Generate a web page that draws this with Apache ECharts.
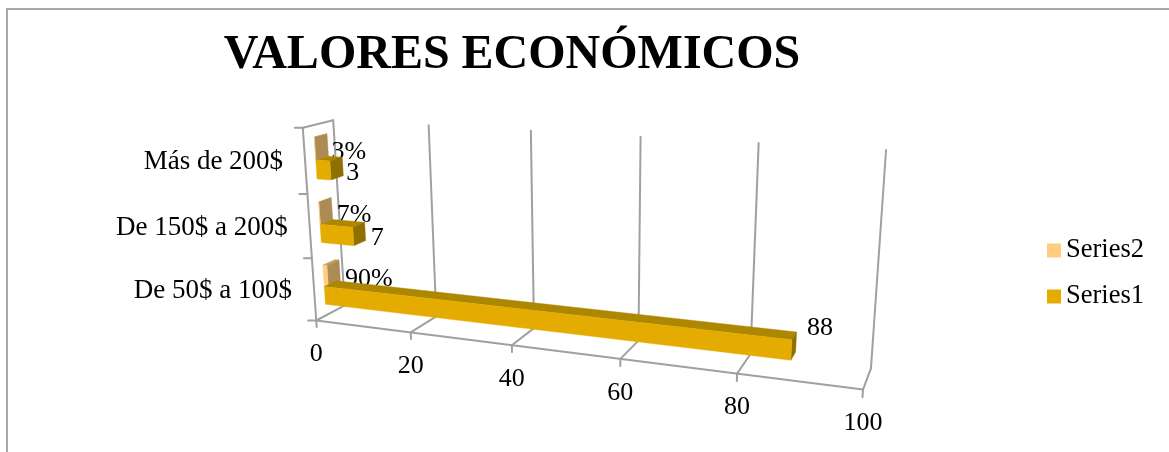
<!DOCTYPE html>
<html>
<head>
<meta charset="utf-8">
<style>html,body{margin:0;padding:0;background:#fff}#chart{width:1169px;height:452px}</style>
<script src="https://cdn.jsdelivr.net/npm/echarts@6/dist/echarts.min.js"></script>
</head>
<body>
<div id="chart"></div>
<script>
// Chart content
const chartTitle = 'VALORES ECONÓMICOS';
const categories = ['De 50$ a 100$', 'De 150$ a 200$', 'Más de 200$'];
const series1Values = [88, 7, 3];
const series2Values = [0.9, 0.07, 0.03];
const valueTicks = [0, 20, 40, 60, 80, 100];

// Camera: reference points of the plot box, as [value share, depth, height] -> screen
const boxCorners = [
  [[0, 0, 0], [317, 320]], [[1, 0, 0], [863, 390]],
  [[0, 1, 0], [344, 306]], [[1, 1, 0], [871, 368]],
  [[0, 0, 1], [302, 128]], [[0, 1, 1], [334, 120]],
  [[1, 1, 1], [886, 150]]
];

// Solves the 3x4 projective camera by least squares over the corners above
function solveCamera(pairs) {
  const rows = [], rhs = [];
  pairs.forEach(([[x, d, h], [sx, sy]]) => {
    const u = sx / 1000, v = sy / 1000;
    rows.push([x, d, h, 1, 0, 0, 0, 0, -u * x, -u * d, -u * h]); rhs.push(u);
    rows.push([0, 0, 0, 0, x, d, h, 1, -v * x, -v * d, -v * h]); rhs.push(v);
  });
  const n = 11;
  const A = Array.from({length: n}, (_, i) => {
    const line = [];
    for (let j = 0; j < n; j++) line.push(rows.reduce((s, r) => s + r[i] * r[j], 0) + (i === j ? 1e-10 : 0));
    line.push(rows.reduce((s, r, k) => s + r[i] * rhs[k], 0));
    return line;
  });
  for (let c = 0; c < n; c++) {
    let p = c;
    for (let r = c + 1; r < n; r++) if (Math.abs(A[r][c]) > Math.abs(A[p][c])) p = r;
    [A[c], A[p]] = [A[p], A[c]];
    for (let r = 0; r < n; r++) {
      if (r === c) continue;
      const f = A[r][c] / A[c][c];
      for (let k = c; k <= n; k++) A[r][k] -= f * A[c][k];
    }
  }
  return A.map((line, i) => line[n] / line[i]);
}
const cam = solveCamera(boxCorners);
function project(x, d, h) {
  const w = cam[8] * x + cam[9] * d + cam[10] * h + 1;
  return [
    1000 * (cam[0] * x + cam[1] * d + cam[2] * h + cam[3]) / w,
    1000 * (cam[4] * x + cam[5] * d + cam[6] * h + cam[7]) / w
  ];
}

// Cartesian position from the hidden axes, lifted onto the box
function lift(api, params, value, catIndex, bandShift, depth) {
  const cs = params.coordSys;
  const p = api.coord([value, catIndex]);
  const band = api.size([0, 1])[1];
  const x = (p[0] - cs.x) / cs.width;
  const h = (cs.y + cs.height - (p[1] + band / 2 - band * bandShift)) / cs.height;
  return project(x, depth, h);
}

const barDepth = [0.34, 0.76];
const serif = '"Liberation Serif", "Times New Roman", serif';
const labelFont = '26px ' + serif;
const categoryFont = '27px ' + serif;
const lineGray = '#a0a0a0';
const seriesStyle = {
  Series1: {front: '#e4ac00', top: '#ad8700', side: '#8f6f00', band: [0.18, 0.47], fmt: v => String(v),
            nudge: [[24, -14], [12, 7], [10, 7]]},
  Series2: {front: '#ffcc80', top: '#c9a15e', side: '#ad8b55', band: [0.47, 0.82], fmt: v => Math.round(v * 100) + '%',
            nudge: [[29, 9], [22, 7], [21, 7]]}
};

function barRenderer(name) {
  const st = seriesStyle[name];
  return function (params, api) {
    const value = api.value(0), cat = api.value(1);
    const [b0, b1] = st.band, [d0, d1] = barDepth;
    const P = (v, s, d) => lift(api, params, v, cat, s, d);
    const poly = (pts, fill) => ({type: 'polygon', shape: {points: pts}, style: {fill: fill, stroke: fill, lineWidth: 0.4}});
    const backRight = P(value, (b0 + b1) / 2, d1);
    const nudge = st.nudge[cat];
    return {
      type: 'group',
      children: [
        poly([P(0, b1, d0), P(value, b1, d0), P(value, b1, d1), P(0, b1, d1)], st.top),
        poly([P(value, b0, d0), P(value, b0, d1), P(value, b1, d1), P(value, b1, d0)], st.side),
        poly([P(0, b0, d0), P(value, b0, d0), P(value, b1, d0), P(0, b1, d0)], st.front),
        {type: 'text', z2: 100, style: {
          x: backRight[0] + nudge[0], y: backRight[1] + nudge[1], text: st.fmt(value),
          font: labelFont, fill: '#000', align: 'center', verticalAlign: 'middle'}}
      ]
    };
  };
}

// Walls, floor lines, ticks and tick labels of the projected axes
function frameRenderer(params, api) {
  const share = api.value(0) / 100;
  const line = (a, b) => ({type: 'line', shape: {x1: a[0], y1: a[1], x2: b[0], y2: b[1]},
    style: {stroke: lineGray, lineWidth: 2, lineCap: 'round'}});
  const front = project(share, 0, 0), back = project(share, 1, 0), top = project(share, 1, 1);
  const children = [
    line(front, back), line(back, top),
    line(front, project(share, 0, -0.035)),
    {type: 'text', style: {x: front[0], y: front[1] + 34, text: String(api.value(0)),
      font: labelFont, fill: '#000', align: 'center', verticalAlign: 'middle'}}
  ];
  if (params.dataIndex === 0) {
    children.push(line(project(0, 0, 0), project(1, 0, 0)));
    children.push(line(project(0, 0, 0), project(0, 0, 1)));
    children.push(line(project(0, 0, 1), project(0, 1, 1)));
    for (let i = 0; i <= categories.length; i++) {
      const a = project(0, 0, i / categories.length);
      children.push(line(a, [a[0] - 8, a[1]]));
    }
  }
  return {type: 'group', children};
}

// Category names sit beside the left wall, centred on their bands
function categoryRenderer(params, api) {
  const i = api.value(1);
  const a = project(0, 0, (i + 0.5) / categories.length);
  return {type: 'text', style: {x: a[0] - 22, y: a[1] + 1, text: categories[i],
    font: categoryFont, fill: '#000', align: 'right', verticalAlign: 'middle'}};
}

const chart = echarts.init(document.getElementById('chart'), null, {renderer: 'canvas'});
chart.setOption({
  animation: false,
  backgroundColor: '#fff',
  title: {
    text: chartTitle, left: 507, top: 27, textAlign: 'center',
    textStyle: {fontFamily: serif, fontWeight: 'bold', fontSize: 48, color: '#000'}
  },
  legend: {
    data: ['Series2', 'Series1'], orient: 'vertical', left: 1047, top: 237, padding: 0,
    icon: 'rect', itemWidth: 14, itemHeight: 14, itemGap: 19, selectedMode: false,
    textStyle: {fontFamily: serif, fontSize: 26.5, color: '#000'}
  },
  grid: {left: 100, right: 100, top: 40, bottom: 40},
  xAxis: {type: 'value', min: 0, max: 100, interval: 20, show: false},
  yAxis: {type: 'category', data: categories, show: false},
  graphic: [{
    type: 'polyline', silent: true,
    shape: {points: [[7, 452], [7, 9], [1169, 9]]},
    style: {stroke: '#a8a8a8', lineWidth: 2, fill: null}
  }],
  series: [
    {type: 'custom', name: 'axes', silent: true, z: 1, renderItem: frameRenderer,
     data: valueTicks.map(t => [t]), encode: {x: 0}, clip: false},
    {type: 'custom', name: 'labels', silent: true, z: 1, renderItem: categoryRenderer,
     data: categories.map((c, i) => [0, i]), encode: {x: 0, y: 1}},
    {type: 'custom', name: 'Series2', z: 2, renderItem: barRenderer('Series2'),
     itemStyle: {color: seriesStyle.Series2.front},
     data: series2Values.map((v, i) => [v, i]).reverse(), encode: {x: 0, y: 1}},
    {type: 'custom', name: 'Series1', z: 3, renderItem: barRenderer('Series1'),
     itemStyle: {color: seriesStyle.Series1.front},
     data: series1Values.map((v, i) => [v, i]).reverse(), encode: {x: 0, y: 1}}
  ]
});
</script>
</body>
</html>
